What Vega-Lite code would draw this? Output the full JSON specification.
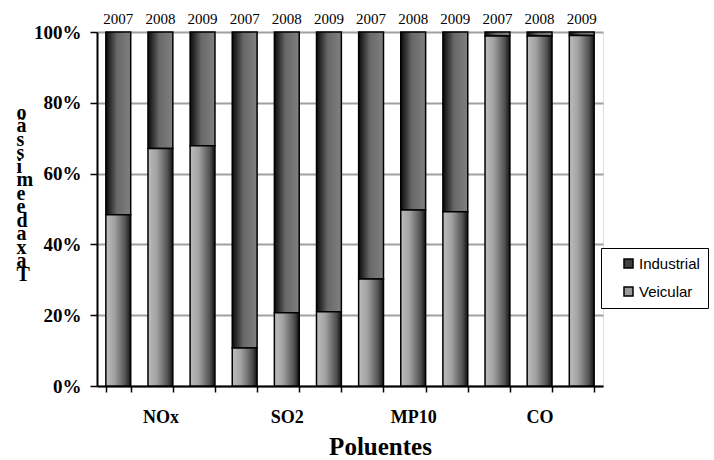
{
  "$schema": "https://vega.github.io/schema/vega-lite/v6.json",
  "width": 506,
  "height": 354,
  "autosize": "none",
  "padding": {"left": 97, "top": 32, "right": 111, "bottom": 74},
  "background": "white",
  "data": {
    "values": [
      {"bar": "NOx|2007", "serie": "Veicular", "valor": 48.4},
      {"bar": "NOx|2007", "serie": "Industrial", "valor": 51.6},
      {"bar": "NOx|2008", "serie": "Veicular", "valor": 67.1},
      {"bar": "NOx|2008", "serie": "Industrial", "valor": 32.9},
      {"bar": "NOx|2009", "serie": "Veicular", "valor": 67.9},
      {"bar": "NOx|2009", "serie": "Industrial", "valor": 32.1},
      {"bar": "SO2|2007", "serie": "Veicular", "valor": 10.7},
      {"bar": "SO2|2007", "serie": "Industrial", "valor": 89.3},
      {"bar": "SO2|2008", "serie": "Veicular", "valor": 20.7},
      {"bar": "SO2|2008", "serie": "Industrial", "valor": 79.3},
      {"bar": "SO2|2009", "serie": "Veicular", "valor": 21.0},
      {"bar": "SO2|2009", "serie": "Industrial", "valor": 79.0},
      {"bar": "MP10|2007", "serie": "Veicular", "valor": 30.2},
      {"bar": "MP10|2007", "serie": "Industrial", "valor": 69.8},
      {"bar": "MP10|2008", "serie": "Veicular", "valor": 49.7},
      {"bar": "MP10|2008", "serie": "Industrial", "valor": 50.3},
      {"bar": "MP10|2009", "serie": "Veicular", "valor": 49.2},
      {"bar": "MP10|2009", "serie": "Industrial", "valor": 50.8},
      {"bar": "CO|2007", "serie": "Veicular", "valor": 98.9},
      {"bar": "CO|2007", "serie": "Industrial", "valor": 1.1},
      {"bar": "CO|2008", "serie": "Veicular", "valor": 98.9},
      {"bar": "CO|2008", "serie": "Industrial", "valor": 1.1},
      {"bar": "CO|2009", "serie": "Veicular", "valor": 99.0},
      {"bar": "CO|2009", "serie": "Industrial", "valor": 1.0}
    ]
  },
  "transform": [
    {"stack": "valor", "groupby": ["bar"], "offset": "normalize", "sort": [{"field": "serie", "order": "descending"}], "as": ["v0", "v1"]}
  ],
  "resolve": {"axis": {"x": "independent"}},
  "layer": [
    {
      "transform": [{"filter": "datum.serie == 'Industrial'"}],
      "mark": {
        "type": "bar",
        "stroke": "black",
        "strokeWidth": 1.5,
        "fill": {"gradient": "linear", "x1": 0, "y1": 0, "x2": 1, "y2": 0, "stops": [{"offset": 0, "color": "#0a0a0a"}, {"offset": 0.45, "color": "#686868"}, {"offset": 1, "color": "#808080"}]}
      },
      "encoding": {
        "x": {
          "field": "bar",
          "type": "nominal",
          "sort": null,
          "scale": {"paddingInner": 0.41, "paddingOuter": 0.21},
          "axis": {
            "orient": "bottom",
            "labelExpr": "split(datum.value, '|')[1] == '2008' ? split(datum.value, '|')[0] : ''",
            "labelAngle": 0,
            "labelFont": "Liberation Serif",
            "labelFontWeight": "bold",
            "labelFontSize": 18,
            "labelColor": "black",
            "labelPadding": 16,
            "domainColor": "black",
            "domainWidth": 2,
            "tickColor": "black",
            "tickWidth": 1.5,
            "tickSize": 6,
            "tickBand": "extent",
            "title": "Poluentes",
            "titleFont": "Liberation Serif",
            "titleFontWeight": "bold",
            "titleFontSize": 25,
            "titleColor": "black",
            "titleX": 283,
            "titleY": 60,
            "titleBaseline": "middle",
            "titleAnchor": "middle",
            "grid": false
          }
        },
        "y": {
          "field": "v0",
          "type": "quantitative",
          "scale": {"domain": [0, 1], "nice": false},
          "axis": {
            "values": [0, 0.2, 0.4, 0.6, 0.8, 1],
            "format": ".0%",
            "labelFont": "Liberation Serif",
            "labelFontWeight": "bold",
            "labelFontSize": 19,
            "labelColor": "black",
            "labelPadding": 9,
            "domainColor": "black",
            "domainWidth": 2,
            "tickColor": "black",
            "tickWidth": 1.5,
            "tickSize": 7,
            "grid": true,
            "gridColor": "#a0a0a0",
            "gridWidth": 2,
            "gridOpacity": 1,
            "title": ["o", "ã", "s", "s", "i", "m", "e", "e", "d", "a", "x", "a", "T"],
            "titleAngle": 0,
            "titleAlign": "left",
            "titleBaseline": "top",
            "titleX": -81,
            "titleY": 70,
            "titleLineHeight": 13.5,
            "titleFont": "Liberation Serif",
            "titleFontWeight": "bold",
            "titleFontSize": 20,
            "titleColor": "black"
          }
        },
        "y2": {"field": "v1"}
      }
    },
    {
      "transform": [{"filter": "datum.serie == 'Veicular'"}],
      "mark": {
        "type": "bar",
        "stroke": "black",
        "strokeWidth": 1.5,
        "fill": {"gradient": "linear", "x1": 0, "y1": 0, "x2": 1, "y2": 0, "stops": [{"offset": 0, "color": "#bcbcbc"}, {"offset": 0.35, "color": "#a2a2a2"}, {"offset": 0.8, "color": "#505050"}, {"offset": 1, "color": "#111111"}]}
      },
      "encoding": {
        "x": {"field": "bar", "type": "nominal", "sort": null, "axis": null},
        "y": {"field": "v0", "type": "quantitative"},
        "y2": {"field": "v1"}
      }
    },
    {
      "mark": {"type": "bar", "opacity": 0},
      "encoding": {
        "x": {
          "field": "bar",
          "type": "nominal",
          "sort": null,
          "axis": {
            "orient": "top",
            "labelExpr": "split(datum.value, '|')[1]",
            "labelAngle": 0,
            "labelFont": "Liberation Serif",
            "labelFontSize": 15,
            "labelColor": "black",
            "labelPadding": 6,
            "ticks": false,
            "domain": false,
            "grid": false,
            "title": null
          }
        },
        "y": {"field": "v0", "type": "quantitative"},
        "y2": {"field": "v1"},
        "color": {
          "field": "serie",
          "type": "nominal",
          "scale": {"domain": ["Industrial", "Veicular"], "range": ["#404040", "#9a9a9a"]},
          "legend": {
            "orient": "none",
            "legendX": 504,
            "legendY": 216,
            "title": null,
            "strokeColor": "black",
            "fillColor": "white",
            "padding": 8,
            "symbolType": "square",
            "symbolSize": 81,
            "symbolOpacity": 1,
            "symbolStrokeColor": "black",
            "symbolStrokeWidth": 1.5,
            "symbolOffset": 12,
            "labelOffset": 3,
            "rowPadding": 12,
            "labelFont": "Liberation Sans",
            "labelFontSize": 15,
            "labelColor": "black"
          }
        }
      }
    }
  ]
}
